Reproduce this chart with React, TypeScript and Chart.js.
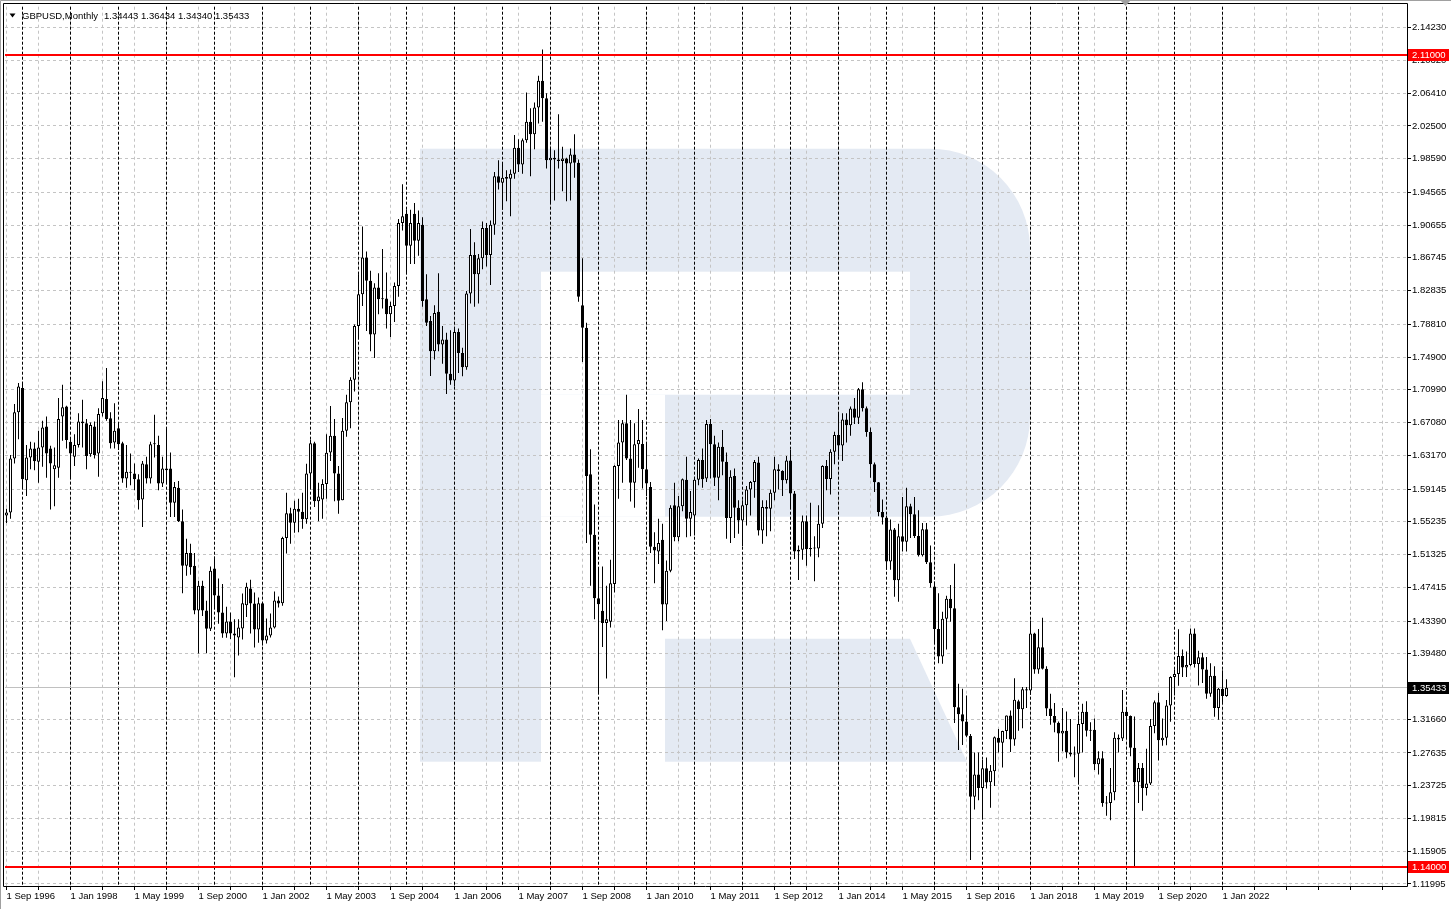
import React, { useEffect, useRef } from 'react';
import { Chart, registerables } from 'chart.js';

Chart.register(...registerables);

const SYMBOL = 'GBPUSD';
const PERIOD = 'Monthly';
const START_YEAR = 1996;
const START_MONTH = 8; // September, 0-based
const MONTH_NAMES = ['Jan', 'Feb', 'Mar', 'Apr', 'May', 'Jun', 'Jul', 'Aug', 'Sep', 'Oct', 'Nov', 'Dec'];

const OPEN = [
  1.5600, 1.5635, 1.6280, 1.6830,
  1.7120, 1.6020, 1.6290, 1.6400, 1.6240, 1.6410, 1.6660, 1.6400, 1.6150, 1.6170, 1.6780, 1.6900,
  1.6480, 1.6300, 1.6440, 1.6720, 1.6700, 1.6330, 1.6660, 1.6340, 1.6820, 1.6990, 1.6760, 1.6470,
  1.6640, 1.6460, 1.6040, 1.6120, 1.6100, 1.6030, 1.5790, 1.6210, 1.6040, 1.6460, 1.6440, 1.5980,
  1.6160, 1.6160, 1.5750, 1.5930, 1.5530, 1.5000, 1.5150, 1.5000, 1.4464, 1.4761, 1.4464, 1.4246,
  1.4965, 1.4642, 1.4440, 1.4190, 1.4333, 1.4190, 1.4142, 1.4250, 1.4527, 1.4726, 1.4547, 1.4238,
  1.4550, 1.4107, 1.4166, 1.4260, 1.4583, 1.4550, 1.5331, 1.5624, 1.5513, 1.5680, 1.5643, 1.5555,
  1.6101, 1.6460, 1.5770, 1.5790, 1.5975, 1.6350, 1.6550, 1.6100, 1.5780, 1.6610, 1.6950, 1.7220,
  1.7860, 1.8240, 1.8680, 1.8400, 1.7760, 1.8320, 1.8180, 1.8190, 1.8000, 1.8100, 1.8340, 1.9090,
  1.9200, 1.8820, 1.9200, 1.8880, 1.9070, 1.8180, 1.7920, 1.7560, 1.8030, 1.7640, 1.7700, 1.7290,
  1.7210, 1.7790, 1.7540, 1.7370, 1.8250, 1.8710, 1.8480, 1.8670, 1.9030, 1.8710, 1.9070, 1.9650,
  1.9570, 1.9640, 1.9620, 1.9680, 1.9990, 1.9790, 2.0080, 2.0300, 2.0150, 2.0470, 2.0790, 2.0580,
  1.9840, 1.9870, 1.9850, 1.9830, 1.9860, 1.9800, 1.9910, 1.9810, 1.8110, 1.7840, 1.6090, 1.5370,
  1.4610, 1.4460, 1.4316, 1.4330, 1.4780, 1.6190, 1.6470, 1.6700, 1.6280, 1.5990, 1.6450, 1.6453,
  1.6150, 1.5940, 1.5226, 1.5170, 1.5310, 1.4535, 1.4940, 1.5720, 1.5340, 1.5710, 1.6025, 1.5560,
  1.5600, 1.6025, 1.6260, 1.6040, 1.6690, 1.6450, 1.6050, 1.6420, 1.6240, 1.5570, 1.6070, 1.5690,
  1.5540, 1.5720, 1.5910, 1.6000, 1.6230, 1.5420, 1.5700, 1.5680, 1.5870, 1.6150, 1.6130, 1.6020,
  1.6255, 1.5860, 1.5170, 1.5190, 1.5530, 1.5195, 1.5210, 1.5205, 1.5500, 1.6190, 1.6035, 1.6360,
  1.6560, 1.6435, 1.6745, 1.6675, 1.6875, 1.6765, 1.7105, 1.6880, 1.6595, 1.6210, 1.5995, 1.5640,
  1.5575, 1.5050, 1.5430, 1.4825, 1.5350, 1.5285, 1.5710, 1.5615, 1.5355, 1.5125, 1.5435, 1.5040,
  1.4750, 1.4245, 1.3915, 1.4365, 1.4605, 1.4490, 1.3310, 1.3225, 1.3140, 1.2965, 1.2240, 1.2505,
  1.2345, 1.2580, 1.2415, 1.2545, 1.2945, 1.2885, 1.3025, 1.3210, 1.2925, 1.3380, 1.3285, 1.3525,
  1.3510, 1.4190, 1.3760, 1.4025, 1.3770, 1.3295, 1.3205, 1.3125, 1.2995, 1.3030, 1.2770, 1.2745,
  1.2755, 1.3110, 1.3255, 1.3030, 1.3040, 1.2630, 1.2700, 1.2165, 1.2165, 1.2295, 1.2945, 1.2935,
  1.3255, 1.3205, 1.2825, 1.2415, 1.2585, 1.2345, 1.2400, 1.3085, 1.3370, 1.2915, 1.2945, 1.3330,
  1.3670, 1.3705, 1.3920, 1.3785, 1.3815, 1.4190, 1.3825, 1.3905, 1.3760, 1.3470, 1.3685, 1.3300,
  1.3530, 1.34443,
];

const HIGH = [
  1.5680, 1.6320, 1.6930, 1.7180,
  1.7195, 1.6440, 1.6480, 1.6470, 1.6610, 1.6730, 1.6780, 1.6430, 1.6410, 1.7000, 1.7160, 1.6910,
  1.6530, 1.6570, 1.6820, 1.6980, 1.6750, 1.6710, 1.6720, 1.6880, 1.7200, 1.7360, 1.6830, 1.6940,
  1.6700, 1.6480, 1.6440, 1.6340, 1.6220, 1.6090, 1.6250, 1.6300, 1.6480, 1.6800, 1.6550, 1.6300,
  1.6650, 1.6350, 1.6000, 1.6010, 1.5670, 1.5320, 1.5260, 1.5150, 1.4820, 1.4820, 1.4580, 1.4990,
  1.5108, 1.4845, 1.4780, 1.4510, 1.4440, 1.4360, 1.4360, 1.4667, 1.4797, 1.4833, 1.4680, 1.4620,
  1.4560, 1.4370, 1.4428, 1.4690, 1.4631, 1.5345, 1.5870, 1.5691, 1.5775, 1.5800, 1.5870, 1.6216,
  1.6500, 1.6480, 1.5990, 1.6030, 1.6570, 1.6907, 1.6750, 1.6190, 1.6764, 1.7040, 1.7250, 1.7880,
  1.8480, 1.9050, 1.8750, 1.8520, 1.8370, 1.8490, 1.8780, 1.8500, 1.8150, 1.8380, 1.9140, 1.9552,
  1.9250, 1.9250, 1.9330, 1.9240, 1.9160, 1.8480, 1.7980, 1.8110, 1.8490, 1.7860, 1.7780, 1.7810,
  1.7850, 1.7830, 1.7600, 1.8280, 1.9020, 1.8860, 1.8720, 1.9110, 1.9090, 1.9120, 1.9700, 1.9840,
  1.9820, 1.9720, 1.9730, 2.0140, 2.0090, 2.0100, 2.0650, 2.0460, 2.0530, 2.0850, 2.1161, 2.0640,
  2.0000, 1.9960, 2.0390, 2.0000, 1.9870, 1.9980, 2.0150, 1.9850, 1.8670, 1.7900, 1.6390, 1.5730,
  1.4980, 1.4990, 1.4760, 1.5070, 1.6200, 1.6740, 1.6740, 1.7040, 1.6740, 1.6700, 1.6870, 1.6740,
  1.6460, 1.6000, 1.5400, 1.5560, 1.5500, 1.5060, 1.5720, 1.5990, 1.5830, 1.6040, 1.6300, 1.5890,
  1.6060, 1.6280, 1.6400, 1.6740, 1.6750, 1.6550, 1.6470, 1.6620, 1.6350, 1.6140, 1.6160, 1.5780,
  1.5780, 1.5950, 1.6010, 1.6260, 1.6300, 1.5780, 1.5780, 1.5910, 1.6300, 1.6210, 1.6140, 1.6310,
  1.6380, 1.5890, 1.5240, 1.5600, 1.5600, 1.5750, 1.5350, 1.5720, 1.6200, 1.6260, 1.6390, 1.6600,
  1.6820, 1.6820, 1.6820, 1.6900, 1.7000, 1.7120, 1.7190, 1.6900, 1.6650, 1.6230, 1.6000, 1.5790,
  1.5600, 1.5550, 1.5450, 1.5500, 1.5820, 1.5930, 1.5740, 1.5820, 1.5660, 1.5510, 1.5510, 1.5240,
  1.4810, 1.4670, 1.4450, 1.4640, 1.4770, 1.5024, 1.3590, 1.3530, 1.3450, 1.2990, 1.2770, 1.2770,
  1.2680, 1.2710, 1.2620, 1.2960, 1.3050, 1.3030, 1.3210, 1.3270, 1.3655, 1.3400, 1.3550, 1.3550,
  1.4345, 1.4200, 1.4245, 1.4377, 1.3800, 1.3470, 1.3360, 1.3140, 1.3300, 1.3260, 1.3170, 1.2840,
  1.3215, 1.3350, 1.3380, 1.3130, 1.3175, 1.2785, 1.2785, 1.2250, 1.2585, 1.3010, 1.2985, 1.3515,
  1.3290, 1.3210, 1.3200, 1.2645, 1.2645, 1.2815, 1.3170, 1.3390, 1.3480, 1.3175, 1.3395, 1.3680,
  1.3760, 1.4240, 1.4000, 1.3975, 1.4250, 1.4250, 1.3985, 1.3960, 1.3910, 1.3835, 1.3800, 1.3540,
  1.3750, 1.36434,
];

const LOW = [
  1.5510, 1.5560, 1.6220, 1.6510,
  1.5920, 1.5830, 1.6150, 1.6140, 1.5990, 1.6180, 1.6050, 1.5670, 1.5710, 1.6050, 1.6490, 1.6400,
  1.6050, 1.6190, 1.6410, 1.6410, 1.6150, 1.6300, 1.6280, 1.6060, 1.6780, 1.6730, 1.6400, 1.6400,
  1.6380, 1.5990, 1.5930, 1.5960, 1.5900, 1.5670, 1.5460, 1.5980, 1.5980, 1.6290, 1.5900, 1.5940,
  1.6000, 1.5580, 1.5580, 1.5520, 1.4670, 1.4880, 1.4890, 1.4420, 1.3952, 1.4400, 1.3955, 1.4220,
  1.4500, 1.4305, 1.4140, 1.4140, 1.4125, 1.3666, 1.3928, 1.4118, 1.4386, 1.4190, 1.4023, 1.4080,
  1.4047, 1.4071, 1.4142, 1.4250, 1.4500, 1.4520, 1.5145, 1.5260, 1.5394, 1.5400, 1.5440, 1.5500,
  1.5920, 1.5700, 1.5530, 1.5560, 1.5800, 1.6250, 1.5770, 1.5620, 1.5780, 1.6540, 1.6640, 1.7080,
  1.7730, 1.8100, 1.7800, 1.7560, 1.7480, 1.8000, 1.8070, 1.7830, 1.7730, 1.7910, 1.8210, 1.9000,
  1.8490, 1.8600, 1.8600, 1.8700, 1.8090, 1.7860, 1.7264, 1.7460, 1.7560, 1.7410, 1.7050, 1.7160,
  1.7140, 1.7300, 1.7260, 1.7340, 1.8130, 1.8090, 1.8130, 1.8540, 1.8570, 1.8350, 1.8950, 1.9490,
  1.9250, 1.9350, 1.9170, 1.9620, 1.9700, 1.9680, 2.0050, 1.9650, 1.9970, 2.0280, 2.0300, 1.9740,
  1.9330, 1.9360, 1.9740, 1.9470, 1.9350, 1.9360, 1.9630, 1.8150, 1.7430, 1.5270, 1.4760, 1.4360,
  1.3490, 1.4030, 1.3654, 1.4260, 1.4680, 1.5800, 1.5990, 1.6260, 1.5765, 1.5690, 1.6170, 1.5920,
  1.5830, 1.5150, 1.4790, 1.5020, 1.4230, 1.4340, 1.4920, 1.5290, 1.5290, 1.5650, 1.5340, 1.5350,
  1.5360, 1.5960, 1.5930, 1.6000, 1.6040, 1.5950, 1.5780, 1.6080, 1.5320, 1.5270, 1.5330, 1.5380,
  1.5230, 1.5480, 1.5600, 1.5810, 1.5360, 1.5260, 1.5350, 1.5410, 1.5780, 1.5910, 1.5830, 1.5980,
  1.5680, 1.5080, 1.4830, 1.5070, 1.5000, 1.5110, 1.4815, 1.5100, 1.5450, 1.5900, 1.5850, 1.6210,
  1.6300, 1.6250, 1.6470, 1.6550, 1.6690, 1.6690, 1.6840, 1.6540, 1.6050, 1.5880, 1.5590, 1.5490,
  1.4950, 1.4950, 1.4630, 1.4570, 1.5170, 1.5170, 1.5330, 1.5330, 1.5110, 1.5110, 1.5020, 1.4740,
  1.4080, 1.3835, 1.3830, 1.4000, 1.4330, 1.3120, 1.2800, 1.2860, 1.2950, 1.1485, 1.2090, 1.2200,
  1.1990, 1.2340, 1.2110, 1.2370, 1.2770, 1.2590, 1.2930, 1.2775, 1.2850, 1.3030, 1.3060, 1.3300,
  1.3460, 1.3710, 1.3710, 1.3760, 1.3205, 1.3100, 1.3010, 1.2660, 1.2785, 1.2700, 1.2720, 1.2475,
  1.2410, 1.2770, 1.2960, 1.2905, 1.2560, 1.2505, 1.2120, 1.2015, 1.1960, 1.2200, 1.2770, 1.2905,
  1.2955, 1.2725, 1.1410, 1.2165, 1.2075, 1.2255, 1.2380, 1.3000, 1.2675, 1.2850, 1.2855, 1.3135,
  1.3450, 1.3565, 1.3670, 1.3670, 1.3800, 1.3785, 1.3570, 1.3600, 1.3410, 1.3435, 1.3195, 1.3160,
  1.3360, 1.34340,
];

const CLOSE = [
  1.5635, 1.6280, 1.6830, 1.7140,
  1.6030, 1.6290, 1.6400, 1.6245, 1.6410, 1.6650, 1.6340, 1.6220, 1.6200, 1.6750, 1.6890, 1.6500,
  1.6340, 1.6440, 1.6720, 1.6700, 1.6310, 1.6680, 1.6320, 1.6810, 1.7000, 1.6750, 1.6460, 1.6610,
  1.6450, 1.6040, 1.6120, 1.6110, 1.6030, 1.5780, 1.6220, 1.6040, 1.6450, 1.6450, 1.5980, 1.6160,
  1.6140, 1.5750, 1.5940, 1.5530, 1.5000, 1.5150, 1.4980, 1.4464, 1.4761, 1.4464, 1.4246, 1.4940,
  1.4642, 1.4440, 1.4190, 1.4333, 1.4190, 1.4166, 1.4262, 1.4551, 1.4749, 1.4547, 1.4238, 1.4550,
  1.4107, 1.4166, 1.4261, 1.4583, 1.4547, 1.5331, 1.5624, 1.5513, 1.5680, 1.5643, 1.5555, 1.6101,
  1.6460, 1.5770, 1.5825, 1.5975, 1.6347, 1.6550, 1.6100, 1.5775, 1.6610, 1.6950, 1.7220, 1.7860,
  1.8240, 1.8680, 1.8400, 1.7760, 1.8320, 1.8180, 1.8190, 1.8000, 1.8100, 1.8340, 1.9090, 1.9170,
  1.8820, 1.9090, 1.8880, 1.9090, 1.8160, 1.7900, 1.7560, 1.8016, 1.7640, 1.7700, 1.7290, 1.7210,
  1.7790, 1.7540, 1.7370, 1.8250, 1.8710, 1.8480, 1.8670, 1.9030, 1.8710, 1.9070, 1.9650, 1.9570,
  1.9630, 1.9620, 1.9680, 1.9990, 1.9790, 2.0080, 2.0300, 2.0150, 2.0470, 2.0790, 2.0580, 1.9840,
  1.9870, 1.9850, 1.9830, 1.9860, 1.9800, 1.9910, 1.9810, 1.8210, 1.7840, 1.6070, 1.5370, 1.4610,
  1.4540, 1.4316, 1.4360, 1.4790, 1.6190, 1.6470, 1.6700, 1.6280, 1.5990, 1.6450, 1.6500, 1.6150,
  1.5980, 1.5226, 1.5180, 1.5270, 1.4535, 1.4940, 1.5690, 1.5340, 1.5710, 1.6030, 1.5560, 1.5640,
  1.6025, 1.6260, 1.6030, 1.6690, 1.6450, 1.6050, 1.6420, 1.6240, 1.5570, 1.6060, 1.5690, 1.5540,
  1.5720, 1.5910, 1.6000, 1.6236, 1.5420, 1.5700, 1.5680, 1.5870, 1.6150, 1.6130, 1.6020, 1.6255,
  1.5860, 1.5170, 1.5190, 1.5530, 1.5195, 1.5210, 1.5205, 1.5500, 1.6190, 1.6035, 1.6360, 1.6560,
  1.6435, 1.6745, 1.6675, 1.6875, 1.6765, 1.7105, 1.6880, 1.6595, 1.6210, 1.5995, 1.5640, 1.5575,
  1.5050, 1.5430, 1.4825, 1.5350, 1.5285, 1.5710, 1.5615, 1.5355, 1.5125, 1.5435, 1.5040, 1.4790,
  1.4245, 1.3915, 1.4365, 1.4605, 1.4490, 1.3310, 1.3225, 1.3140, 1.2970, 1.2240, 1.2505, 1.2345,
  1.2580, 1.2410, 1.2550, 1.2950, 1.2885, 1.3025, 1.3210, 1.2925, 1.3400, 1.3285, 1.3525, 1.3510,
  1.4190, 1.3760, 1.4025, 1.3770, 1.3295, 1.3205, 1.3125, 1.2995, 1.3030, 1.2770, 1.2745, 1.2755,
  1.3110, 1.3255, 1.3030, 1.3040, 1.2630, 1.2700, 1.2165, 1.2160, 1.2295, 1.2945, 1.2925, 1.3255,
  1.3205, 1.2825, 1.2415, 1.2585, 1.2345, 1.2400, 1.3085, 1.3370, 1.2915, 1.2945, 1.3330, 1.3670,
  1.3705, 1.3920, 1.3785, 1.3815, 1.4190, 1.3825, 1.3905, 1.3760, 1.3470, 1.3685, 1.3300, 1.3530,
  1.3445, 1.35433,
];

const PRICE_TICKS = [
  2.1423, 2.1032, 2.0641, 2.025, 1.9859, 1.94565, 1.90655, 1.86745, 1.82835, 1.7881, 1.749,
  1.7099, 1.6708, 1.6317, 1.59145, 1.55235, 1.51325, 1.47415, 1.4339, 1.3948, 1.3166,
  1.27635, 1.23725, 1.19815, 1.15905, 1.11995,
];
const LEVEL_LINES = [2.11, 1.14];
const Y_RANGE = [1.11752, 2.16732];
const X_RANGE = [-0.375, 350.125];
const GRID_STEP = 8;
const LABEL_STEP = 16;

const FONT = '"Liberation Sans", Arial, sans-serif';
const WM_COLOR = '#e4eaf3';

function barDate(i: number) {
  const m = START_MONTH + i;
  return { year: START_YEAR + Math.floor(m / 12), month: m % 12 };
}

const xTickValues: number[] = [];
for (let i = 0; i <= X_RANGE[1]; i += GRID_STEP) xTickValues.push(i);

const backgroundPlugin = {
  id: 'mtBackground',
  beforeDraw(chart: any) {
    const { ctx, chartArea: a } = chart;
    ctx.save();
    ctx.fillStyle = '#ffffff';
    ctx.fillRect(0, 0, chart.width, chart.height);
    // watermark "R"
    const X = (v: number) => a.left + v;
    const Y = (v: number) => a.top + v;
    ctx.fillStyle = WM_COLOR;
    ctx.beginPath();
    ctx.roundRect(X(536), Y(142), 489, 368, [0, 100, 100, 0]);
    ctx.fill();
    ctx.fillStyle = '#ffffff';
    ctx.fillRect(X(536), Y(265), 369, 123);
    ctx.fillRect(X(536), Y(388), 124, 122);
    ctx.fillStyle = WM_COLOR;
    ctx.fillRect(X(415), Y(142), 121, 613);
    ctx.beginPath();
    ctx.moveTo(X(660), Y(632));
    ctx.lineTo(X(905), Y(632));
    ctx.lineTo(X(962), Y(755));
    ctx.lineTo(X(660), Y(755));
    ctx.closePath();
    ctx.fill();
    ctx.restore();
  },
};

const overlayPlugin = {
  id: 'mtOverlay',
  beforeDatasetsDraw(chart: any) {
    const { ctx, chartArea: a, scales } = chart;
    const xs = scales.x;
    const ys = scales.y;
    ctx.save();
    // yearly period separators
    ctx.strokeStyle = '#000000';
    ctx.lineWidth = 1;
    ctx.setLineDash([3, 2]);
    for (let i = 0; i < OPEN.length; i++) {
      if (barDate(i).month !== 0) continue;
      const px = Math.round(xs.getPixelForValue(i) - 0.5) + 0.5;
      ctx.beginPath();
      ctx.moveTo(px, a.top);
      ctx.lineTo(px, a.bottom);
      ctx.stroke();
    }
    // bid line
    ctx.setLineDash([]);
    ctx.strokeStyle = '#c0c0c0';
    const by = Math.round(ys.getPixelForValue(CLOSE[CLOSE.length - 1]) - 0.5) + 0.5;
    ctx.beginPath();
    ctx.moveTo(a.left, by);
    ctx.lineTo(a.right, by);
    ctx.stroke();
    ctx.restore();
  },
  afterDatasetsDraw(chart: any) {
    const { ctx, chartArea: a, scales } = chart;
    ctx.save();
    ctx.strokeStyle = '#ff0000';
    ctx.lineWidth = 2;
    LEVEL_LINES.forEach((lv) => {
      const py = Math.round(scales.y.getPixelForValue(lv));
      ctx.beginPath();
      ctx.moveTo(a.left, py);
      ctx.lineTo(a.right, py);
      ctx.stroke();
    });
    ctx.restore();
  },
  afterDraw(chart: any) {
    const { ctx, chartArea: a, scales } = chart;
    ctx.save();
    // window border
    ctx.strokeStyle = '#a0a0a0';
    ctx.lineWidth = 1;
    ctx.beginPath();
    ctx.moveTo(0.5, chart.height);
    ctx.lineTo(0.5, 0.5);
    ctx.lineTo(chart.width, 0.5);
    ctx.stroke();
    // chart frame
    ctx.strokeStyle = '#000000';
    ctx.beginPath();
    ctx.moveTo(3.5, a.bottom + 0.5);
    ctx.lineTo(3.5, 3.5);
    ctx.lineTo(a.right + 0.5, 3.5);
    ctx.lineTo(a.right + 0.5, a.bottom + 0.5);
    ctx.lineTo(3.5, a.bottom + 0.5);
    ctx.stroke();
    // shift marker
    ctx.fillStyle = '#a0a0a0';
    ctx.beginPath();
    ctx.moveTo(1121, 1);
    ctx.lineTo(1130, 1);
    ctx.lineTo(1125.5, 6);
    ctx.closePath();
    ctx.fill();
    // price labels on the axis
    ctx.font = `9.5px ${FONT}`;
    ctx.textBaseline = 'middle';
    ctx.textAlign = 'left';
    const boxes = [
      ...LEVEL_LINES.map((v) => ({ v, bg: '#ff0000' })),
      { v: CLOSE[CLOSE.length - 1], bg: '#000000' },
    ];
    boxes.forEach((b) => {
      const py = Math.round(scales.y.getPixelForValue(b.v));
      ctx.fillStyle = b.bg;
      ctx.fillRect(a.right + 1, py - 6, 41, 12);
      ctx.fillStyle = '#ffffff';
      ctx.fillText(b.v.toFixed(5), a.right + 5, py + 0.5);
    });
    // header
    const n = OPEN.length - 1;
    ctx.fillStyle = '#000000';
    ctx.beginPath();
    ctx.moveTo(9.5, 13.5);
    ctx.lineTo(15.5, 13.5);
    ctx.lineTo(12.5, 17.5);
    ctx.closePath();
    ctx.fill();
    ctx.textBaseline = 'alphabetic';
    ctx.fillText(`${SYMBOL},${PERIOD}`, 22, 19);
    ctx.fillText(
      [OPEN[n], HIGH[n], LOW[n], CLOSE[n]].map((v) => v.toFixed(5)).join(' '),
      104,
      19
    );
    ctx.restore();
  },
};

export default function App() {
  const ref = useRef<HTMLCanvasElement>(null);

  useEffect(() => {
    const canvas = ref.current;
    if (!canvas) return;
    const idx = OPEN.map((_, i) => i);
    const chart = new Chart(canvas, {
      type: 'bar',
      data: {
        datasets: [
          {
            label: 'body',
            data: idx.map((i) => ({ x: i, y: [OPEN[i], CLOSE[i]] })),
            backgroundColor: idx.map((i) => (CLOSE[i] >= OPEN[i] ? '#ffffff' : '#000000')),
            borderColor: '#000000',
            borderWidth: 1,
            borderSkipped: false,
            barThickness: 3,
            minBarLength: 1,
            grouped: false,
            inflateAmount: 0,
            order: 0,
          },
          {
            label: 'wick',
            data: idx.map((i) => ({ x: i, y: [LOW[i], HIGH[i]] })),
            backgroundColor: '#000000',
            borderWidth: 0,
            barThickness: 1,
            grouped: false,
            inflateAmount: 0,
            order: 1,
          },
        ],
      } as any,
      options: {
        responsive: false,
        maintainAspectRatio: false,
        animation: false,
        devicePixelRatio: 1,
        layout: { padding: { left: 5, top: 5, right: 0, bottom: 0 } },
        plugins: {
          legend: { display: false },
          tooltip: { enabled: false },
          title: { display: false },
        },
        scales: {
          x: {
            type: 'linear',
            position: 'bottom',
            min: X_RANGE[0],
            max: X_RANGE[1],
            bounds: 'data',
            offset: false,
            afterBuildTicks: (s: any) => {
              s.ticks = xTickValues.map((v) => ({ value: v }));
            },
            afterFit: (s: any) => {
              s.height = 23;
            },
            grid: {
              offset: false,
              color: '#c4c4c4',
              lineWidth: 1,
              drawTicks: true,
              tickLength: 4,
              tickColor: '#000000',
              tickBorderDash: [],
            },
            border: { display: false, dash: [3, 3] },
            ticks: {
              autoSkip: false,
              maxRotation: 0,
              minRotation: 0,
              align: 'start',
              padding: 1,
              color: '#000000',
              font: { family: FONT, size: 9.5 },
              callback: (v: any) => {
                const i = Math.round(Number(v));
                if (i % LABEL_STEP !== 0 || i >= OPEN.length) return '';
                const d = barDate(i);
                return `1 ${MONTH_NAMES[d.month]} ${d.year}`;
              },
            },
          },
          y: {
            type: 'linear',
            position: 'right',
            min: Y_RANGE[0],
            max: Y_RANGE[1],
            bounds: 'data',
            beginAtZero: false,
            afterBuildTicks: (s: any) => {
              s.ticks = PRICE_TICKS.map((v) => ({ value: v }));
            },
            afterFit: (s: any) => {
              s.width = 44;
            },
            grid: {
              color: '#c4c4c4',
              lineWidth: 1,
              drawTicks: true,
              tickLength: 4,
              tickColor: '#000000',
              tickBorderDash: [],
            },
            border: { display: false, dash: [3, 3] },
            ticks: {
              autoSkip: false,
              padding: 1,
              color: '#000000',
              font: { family: FONT, size: 9.5 },
              callback: (v: any) => Number(v).toFixed(5),
            },
          },
        },
      } as any,
      plugins: [backgroundPlugin, overlayPlugin],
    });
    return () => chart.destroy();
  }, []);

  return (
    <div style={{ position: 'fixed', left: 0, top: 0, width: 1451, height: 909, background: '#ffffff' }}>
      <canvas ref={ref} width={1451} height={909} style={{ display: 'block', width: 1451, height: 909 }} />
    </div>
  );
}
